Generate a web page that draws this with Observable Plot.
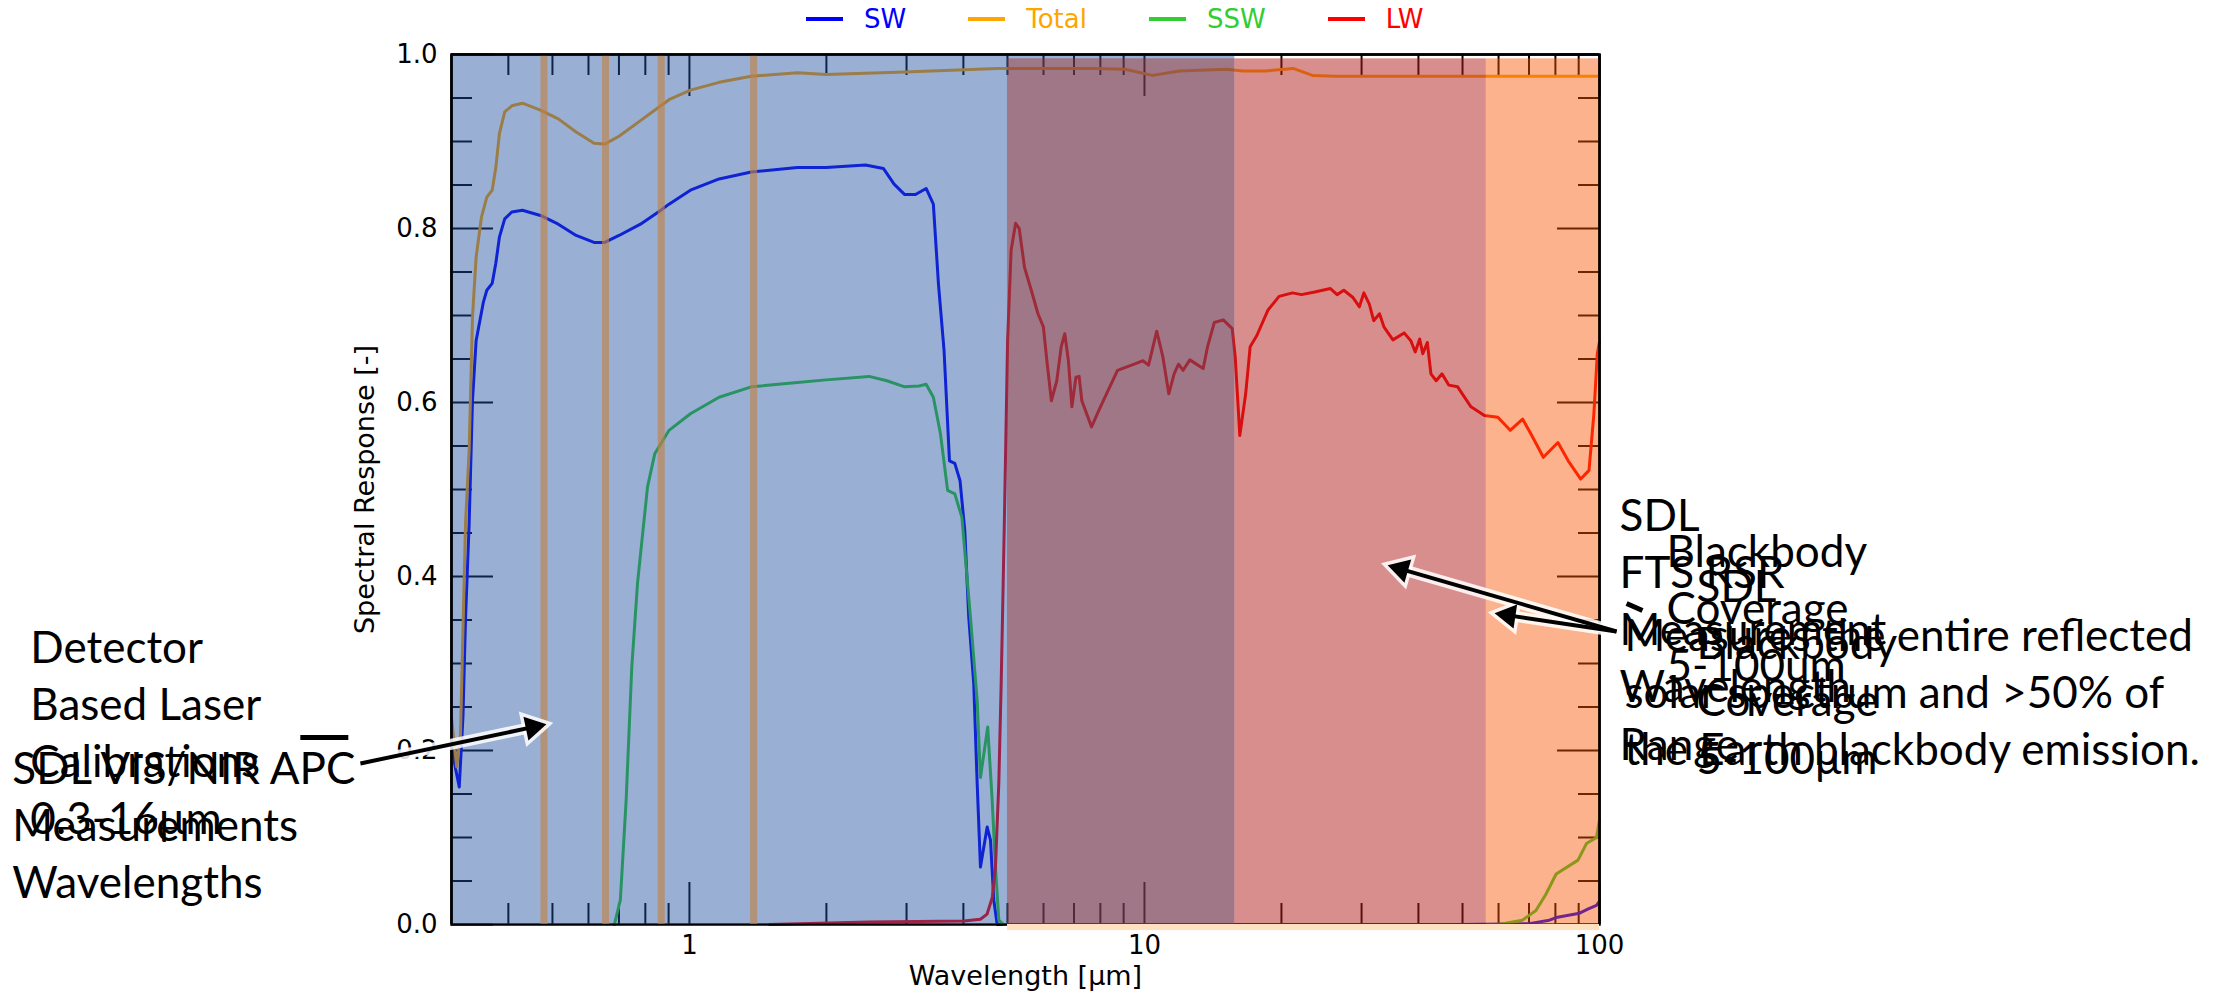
<!DOCTYPE html>
<html><head><meta charset="utf-8">
<script src="https://cdn.jsdelivr.net/npm/d3@7"></script>
<script src="https://cdn.jsdelivr.net/npm/@observablehq/plot@0.6"></script>
<style>
body{margin:0;background:#fff;}
#wrap{position:relative;width:2223px;height:992px;overflow:hidden;}
#legend{position:absolute;top:0;left:806px;height:38px;display:flex;align-items:center;font-family:"DejaVu Sans";font-size:26px;gap:62px;}
.item{display:flex;align-items:center;gap:21px;}
.swatch{width:37px;height:4px;}
</style></head>
<body><div id="wrap"><div id="chart"></div><div id="legend"></div></div>
<script>
// ---- series ----
const seriesNames = ["SW", "Total", "SSW", "LW"];
const seriesColors = ["#0000ff", "#ffa500", "#32cd32", "#ff0000"];

const swData = [[0.300,0.205],[0.306,0.18],[0.312,0.158],[0.318,0.24],[0.322,0.35],[0.328,0.46],[0.3336,0.602],[0.3398,0.671],[0.3524,0.715],[0.3587,0.729],[0.3686,0.737],[0.3754,0.760],[0.3823,0.790],[0.3927,0.811],[0.4071,0.819],[0.4295,0.821],[0.4706,0.815],[0.515,0.805],[0.5637,0.792],[0.6171,0.784],[0.6514,0.784],[0.7002,0.792],[0.7805,0.805],[0.8545,0.819],[0.9019,0.828],[1.005,0.844],[1.162,0.857],[1.367,0.865],[1.727,0.870],[1.997,0.870],[2.437,0.873],[2.668,0.869],[2.817,0.851],[2.973,0.839],[3.139,0.839],[3.313,0.846],[3.436,0.828],[3.526,0.736],[3.627,0.660],[3.728,0.533],[3.830,0.530],[3.933,0.510],[4.028,0.453],[4.110,0.353],[4.215,0.277],[4.289,0.162],[4.361,0.066],[4.512,0.112],[4.588,0.097],[4.665,0.028],[4.746,0.0],[10,0.0],[50,0.0],[70.0,0.001],[77.6,0.005],[80.3,0.008],[90.4,0.013],[94.5,0.018],[98.5,0.022],[100,0.027]];

const totalData = [[0.300,0.238],[0.308,0.181],[0.314,0.219],[0.322,0.46],[0.328,0.545],[0.3336,0.698],[0.3398,0.767],[0.3491,0.813],[0.3587,0.836],[0.3686,0.844],[0.3754,0.870],[0.3823,0.909],[0.3927,0.934],[0.4071,0.941],[0.4295,0.944],[0.4706,0.936],[0.515,0.926],[0.5637,0.911],[0.6171,0.898],[0.6514,0.897],[0.7002,0.906],[0.7805,0.924],[0.8545,0.939],[0.9019,0.948],[1.005,0.959],[1.162,0.968],[1.367,0.975],[1.727,0.979],[1.997,0.977],[2.973,0.980],[4.75,0.984],[7.75,0.984],[9.07,0.983],[10.41,0.976],[11.94,0.981],[15.14,0.983],[16.43,0.981],[18.45,0.981],[21.21,0.984],[23.40,0.976],[26.29,0.975],[100,0.975]];

const sswData = [[0.684,0.0],[0.705,0.028],[0.726,0.143],[0.747,0.296],[0.769,0.392],[0.792,0.457],[0.809,0.503],[0.839,0.541],[0.902,0.568],[1.005,0.587],[1.162,0.606],[1.367,0.618],[1.727,0.623],[1.997,0.626],[2.482,0.630],[2.716,0.625],[2.973,0.618],[3.197,0.619],[3.313,0.621],[3.436,0.606],[3.562,0.564],[3.693,0.499],[3.830,0.495],[3.970,0.468],[4.146,0.353],[4.289,0.257],[4.361,0.169],[4.524,0.227],[4.627,0.143],[4.705,0.066],[4.785,0.005],[4.9,0.0],[60,0.0],[67.7,0.005],[72.5,0.016],[76.3,0.035],[80.3,0.058],[89.7,0.074],[93.6,0.093],[98.5,0.100],[100,0.12]];

const lwData = [[1.5,0.0],[2.48,0.003],[4.01,0.004],[4.36,0.006],[4.51,0.012],[4.63,0.031],[4.705,0.066],[4.785,0.162],[4.843,0.277],[4.892,0.392],[4.924,0.470],[5.003,0.671],[5.093,0.775],[5.210,0.806],[5.306,0.800],[5.451,0.755],[5.640,0.729],[5.834,0.702],[5.996,0.687],[6.103,0.648],[6.244,0.602],[6.417,0.625],[6.561,0.664],[6.682,0.679],[6.805,0.648],[6.927,0.595],[7.069,0.629],[7.185,0.630],[7.284,0.602],[7.650,0.572],[8.003,0.595],[8.725,0.637],[9.590,0.645],[9.920,0.648],[10.21,0.643],[10.64,0.682],[10.98,0.652],[11.31,0.610],[11.62,0.633],[11.88,0.644],[12.16,0.637],[12.58,0.649],[13.46,0.639],[13.76,0.664],[14.24,0.692],[14.90,0.695],[15.59,0.685],[15.83,0.652],[16.20,0.562],[16.69,0.610],[17.07,0.664],[17.66,0.677],[18.67,0.706],[19.76,0.722],[21.15,0.726],[22.13,0.724],[23.67,0.727],[25.62,0.731],[26.51,0.724],[27.42,0.729],[28.68,0.721],[29.67,0.710],[30.35,0.726],[31.20,0.713],[31.90,0.694],[32.85,0.702],[33.59,0.687],[35.16,0.672],[37.21,0.680],[38.49,0.671],[39.36,0.658],[40.26,0.673],[40.89,0.656],[41.84,0.669],[42.61,0.633],[43.77,0.625],[45.07,0.633],[46.63,0.620],[48.78,0.618],[52.19,0.595],[55.85,0.585],[59.78,0.583],[63.64,0.568],[67.76,0.581],[70.65,0.564],[75.27,0.537],[81.03,0.554],[85.36,0.533],[90.94,0.512],[94.83,0.522],[97.20,0.587],[98.9,0.656],[100,0.67]];

// ---- bands and laser lines ----
const bandNames = ["SDL VIS/NIR", "Blackbody 5-16", "Blackbody 16-56", "Blackbody 56-100"];
const bandFrom = [0.3, 5, 15.8, 56.4];
const bandTo = [15.8, 15.8, 56.4, 100];
const bandTop = [1, 0.995, 0.995, 0.995];
const laserWl = [0.479, 0.654, 0.867, 1.384];

// ---- ticks ----
const xMajorTicks = [1, 10, 100];
const xMinorTicks = [0.4,0.5,0.6,0.7,0.8,0.9,2,3,4,5,6,7,8,9,20,30,40,50,60,70,80,90];
const yMajorTicks = [0, 0.2, 0.4, 0.6, 0.8, 1.0];
const yMinorTicks = [0.05,0.1,0.15,0.25,0.3,0.35,0.45,0.5,0.55,0.65,0.7,0.75,0.85,0.9,0.95];
const xLabel = "Wavelength [\u03bcm]";
const yLabel = "Spectral Response [-]";

// ---- annotations ----
const noteTexts = [
  "Detector\nBased Laser\nCalibrations\n0.3-16\u03bcm",
  "SDL VIS/NIR APC\nMeasurements\nWavelengths",
  "SDL\nFTS RSR\nMeasurement\nWavelength\nRange",
  "Blackbody\nCoverage\n5-100um",
  "SDL\nBlackbody\nCoverage\n5-100\u03bcm",
  "Measures the entire reflected\nsolar spectrum and >50% of\nthe Earth blackbody emission."
];
const noteX = [0.0356, 0.0325, 110.7, 140.4, 163.4, 113.5];
const noteY = [0.3474, 0.2082, 0.4991, 0.4576, 0.4174, 0.3610];
const arrowFrom = [[0.1892, 0.1851], [109, 0.3368], [109, 0.3368]];
const arrowTo = [[0.4827, 0.2299], [34.4, 0.4126], [59.1, 0.3575]];
const dashFrom = [[0.1396, 0.2149], [114.7, 0.369]];
const dashTo = [[0.178, 0.2149], [124.3, 0.361]];

// ---- layout ----
const W = 2223, H = 992, mL = 451, mR = 624, mT = 54, mB = 68;
const iw = W - mL - mR, ih = H - mT - mB;
const minorLen = 21, majorLen = 42;

// ---- build tables ----
const allSeries = [swData, totalData, sswData, lwData];
const rows = allSeries.flatMap((arr, i) => arr.map(([x, y]) => ({series: seriesNames[i], x, y})));
const bands = bandNames.map((n, i) => ({name: n, x1: bandFrom[i], x2: bandTo[i], y2: bandTop[i]}));
const bandFill = ["rgb(31,78,160)", "rgb(167,50,43)", "rgb(180,30,30)", "rgb(249,84,0)"];
const bandOpacity = [0.45, 0.45, 0.5, 0.45];
const notes = noteTexts.map((t, i) => ({t, x: noteX[i], y: noteY[i]}));
const dashes = dashFrom.map((f, i) => ({x1: f[0], y1: f[1], x2: dashTo[i][0], y2: dashTo[i][1]}));

// arrow shafts + filled heads (geometry via the same scale mapping as the plot)
const xs = d3.scaleLog([0.3, 100], [mL, W - mR]);
const ys = d3.scaleLinear([0, 1], [H - mB, mT]);
const headBack = 13;
const arrowParts = arrowFrom.map((f, i) => {
  const px1 = xs(f[0]), py1 = ys(f[1]), px2 = xs(arrowTo[i][0]), py2 = ys(arrowTo[i][1]);
  const L = Math.hypot(px2 - px1, py2 - py1), ux = (px2 - px1) / L, uy = (py2 - py1) / L;
  const cx = px2 - ux * headBack, cy = py2 - uy * headBack;
  return {x1: f[0], y1: f[1], x2: xs.invert(cx), y2: ys.invert(cy),
          hx: xs.invert(cx), hy: ys.invert(cy), rot: Math.atan2(ux, -uy) * 180 / Math.PI};
});

const lineOrder = ["SW", "Total", "SSW", "LW"];
const marks = [
  Plot.tickX(xMinorTicks, {x: d => d, insetTop: ih - minorLen, stroke: "black", strokeWidth: 2}),
  Plot.tickX(xMinorTicks, {x: d => d, insetBottom: ih - minorLen, stroke: "black", strokeWidth: 2}),
  Plot.tickX(xMajorTicks, {x: d => d, insetTop: ih - majorLen, stroke: "black", strokeWidth: 2}),
  Plot.tickX(xMajorTicks, {x: d => d, insetBottom: ih - majorLen, stroke: "black", strokeWidth: 2}),
  Plot.tickY(yMinorTicks, {y: d => d, insetRight: iw - minorLen, stroke: "black", strokeWidth: 2}),
  Plot.tickY(yMinorTicks, {y: d => d, insetLeft: iw - minorLen, stroke: "black", strokeWidth: 2}),
  Plot.tickY(yMajorTicks, {y: d => d, insetRight: iw - majorLen, stroke: "black", strokeWidth: 2}),
  Plot.tickY(yMajorTicks, {y: d => d, insetLeft: iw - majorLen, stroke: "black", strokeWidth: 2}),
  ...lineOrder.map(s => Plot.line(rows.filter(r => r.series === s), {
    x: "x", y: "y", stroke: seriesColors[seriesNames.indexOf(s)], strokeWidth: 3
  })),
  Plot.frame({stroke: "black", strokeWidth: 2.5}),
  ...bands.map((b, i) => Plot.rect([b], {
    x1: "x1", x2: "x2", y1: 0, y2: "y2", fill: bandFill[i], fillOpacity: bandOpacity[i]
  })),
  Plot.ruleX(laserWl, {x: d => d, stroke: "rgb(190,130,70)", strokeWidth: 7, strokeOpacity: 0.65}),
  Plot.rect([{x1: bandFrom[1], x2: 100}], {x1: "x1", x2: "x2", y1: -0.007, y2: 0, fill: "rgb(255,224,192)"}),
  Plot.ruleX([0.3, 100], {x: d => d, stroke: "black", strokeWidth: 2.5}),
  Plot.ruleY([1], {y: d => d, stroke: "black", strokeWidth: 2.5}),
  Plot.axisX({ticks: xMajorTicks, tickSize: 0, tickPadding: 11, fontSize: 26, label: null, tickFormat: d => String(d)}),
  Plot.axisY({ticks: yMajorTicks, tickSize: 0, tickPadding: 14, fontSize: 26, label: null, tickFormat: d3.format(".1f")}),
  Plot.text([xLabel], {frameAnchor: "bottom", dy: 52, lineAnchor: "middle", textAnchor: "middle", fontSize: 27}),
  Plot.text([yLabel], {frameAnchor: "left", dx: -86, rotate: -90, lineAnchor: "middle", textAnchor: "middle", fontSize: 27}),
  // annotations
  Plot.text(notes, {x: "x", y: "y", text: "t", textAnchor: "start", lineAnchor: "top", fontFamily: "Lato", fontSize: 44, lineHeight: 1.3, fill: "black"}),
  Plot.link(dashes, {x1: "x1", y1: "y1", x2: "x2", y2: "y2", stroke: "black", strokeWidth: 5}),
  Plot.link(arrowParts, {x1: "x1", y1: "y1", x2: "x2", y2: "y2", stroke: "white", strokeWidth: 11, strokeOpacity: 0.85}),
  Plot.dot(arrowParts, {x: "hx", y: "hy", rotate: "rot", symbol: "triangle", r: 9, fill: "white", stroke: "white", strokeWidth: 7, strokeOpacity: 0.85}),
  Plot.link(arrowParts, {x1: "x1", y1: "y1", x2: "x2", y2: "y2", stroke: "black", strokeWidth: 4}),
  Plot.dot(arrowParts, {x: "hx", y: "hy", rotate: "rot", symbol: "triangle", r: 9, fill: "black", stroke: "none"})
];

const chart = Plot.plot({
  width: W, height: H,
  marginLeft: mL, marginRight: mR, marginTop: mT, marginBottom: mB,
  x: {type: "log", domain: [0.3, 100]},
  y: {domain: [0, 1]},
  style: {fontFamily: "'DejaVu Sans'", fontSize: "26px", background: "white", overflow: "visible"},
  marks
});
document.getElementById("chart").appendChild(chart);

// legend
const legend = document.getElementById("legend");
seriesNames.forEach((n, i) => {
  const it = document.createElement("div"); it.className = "item";
  const sw = document.createElement("div"); sw.className = "swatch"; sw.style.background = seriesColors[i];
  const tx = document.createElement("span"); tx.textContent = n; tx.style.color = seriesColors[i];
  it.appendChild(sw); it.appendChild(tx); legend.appendChild(it);
});
</script></body></html>
